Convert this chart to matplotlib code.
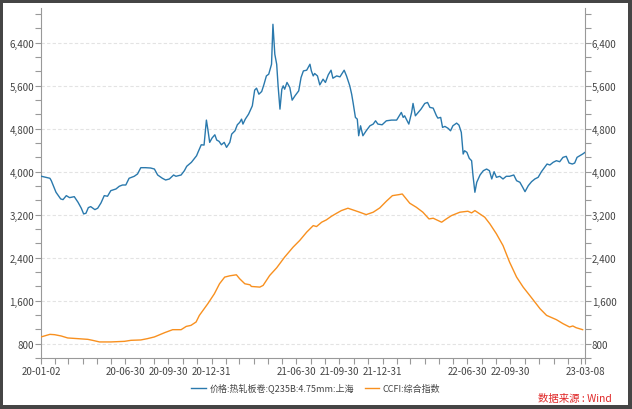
import matplotlib
matplotlib.use("Agg")
import matplotlib.pyplot as plt
import matplotlib.ticker as mticker
import matplotlib.patches as mpatches
import pandas as pd

plt.rcParams['font.family'] = ['Noto Sans CJK SC', 'DejaVu Sans']

# ---- Data ----
steel_dates = [
    "2020-01-02", "2020-01-21", "2020-01-24", "2020-02-03", "2020-02-13", "2020-02-18", "2020-02-25",
    "2020-03-03", "2020-03-13", "2020-03-21", "2020-03-28", "2020-04-02", "2020-04-07", "2020-04-12",
    "2020-04-17", "2020-04-26", "2020-05-02", "2020-05-09", "2020-05-16", "2020-05-23", "2020-05-30",
    "2020-06-10", "2020-06-17", "2020-06-24", "2020-07-01", "2020-07-08", "2020-07-19", "2020-07-26",
    "2020-08-02", "2020-08-12", "2020-08-23", "2020-08-31", "2020-09-07", "2020-09-17", "2020-09-24",
    "2020-10-02", "2020-10-11", "2020-10-16", "2020-10-27", "2020-11-03", "2020-11-08", "2020-11-18",
    "2020-11-29", "2020-12-02", "2020-12-09", "2020-12-15", "2020-12-20", "2020-12-23", "2020-12-27",
    "2021-01-01", "2021-01-07", "2021-01-11", "2021-01-16", "2021-01-21", "2021-01-27", "2021-02-01",
    "2021-02-08", "2021-02-12", "2021-02-19", "2021-02-24", "2021-03-01", "2021-03-05", "2021-03-08",
    "2021-03-13", "2021-03-20", "2021-03-28", "2021-04-02", "2021-04-06", "2021-04-11", "2021-04-17",
    "2021-04-22", "2021-04-27", "2021-05-02", "2021-05-08", "2021-05-11", "2021-05-15", "2021-05-19",
    "2021-05-22", "2021-05-26", "2021-05-30", "2021-06-02", "2021-06-05", "2021-06-10", "2021-06-16",
    "2021-06-21", "2021-06-27", "2021-07-05", "2021-07-10", "2021-07-15", "2021-07-22", "2021-07-29",
    "2021-08-01", "2021-08-05", "2021-08-08", "2021-08-14", "2021-08-19", "2021-08-26", "2021-08-31",
    "2021-09-06", "2021-09-12", "2021-09-16", "2021-09-24", "2021-10-01", "2021-10-10", "2021-10-15",
    "2021-10-22", "2021-10-26", "2021-10-29", "2021-11-03", "2021-11-07", "2021-11-10", "2021-11-14",
    "2021-11-19", "2021-11-26", "2021-12-04", "2021-12-11", "2021-12-16", "2021-12-21", "2021-12-30",
    "2022-01-08", "2022-01-19", "2022-01-30", "2022-02-09", "2022-02-13", "2022-02-16", "2022-02-25",
    "2022-03-03", "2022-03-06", "2022-03-11", "2022-03-17", "2022-03-23", "2022-03-31", "2022-04-06",
    "2022-04-11", "2022-04-18", "2022-04-25", "2022-04-28", "2022-05-04", "2022-05-08", "2022-05-13",
    "2022-05-20", "2022-05-25", "2022-05-30", "2022-06-07", "2022-06-12", "2022-06-17", "2022-06-21",
    "2022-06-24", "2022-06-29", "2022-07-04", "2022-07-09", "2022-07-12", "2022-07-16", "2022-07-20",
    "2022-07-27", "2022-08-03", "2022-08-10", "2022-08-16", "2022-08-21", "2022-08-26", "2022-08-31",
    "2022-09-07", "2022-09-14", "2022-09-21", "2022-09-28", "2022-10-07", "2022-10-13", "2022-10-20",
    "2022-10-26", "2022-10-31", "2022-11-07", "2022-11-14", "2022-11-21", "2022-11-28", "2022-12-05",
    "2022-12-12", "2022-12-17", "2022-12-23", "2022-12-30", "2023-01-06", "2023-01-13", "2023-01-20",
    "2023-01-27", "2023-02-02", "2023-02-09", "2023-02-14", "2023-02-19", "2023-02-25", "2023-03-03",
    "2023-03-08",
]
steel_values = [
    3915, 3876, 3831, 3616, 3492, 3479, 3553,
    3516, 3534, 3430, 3319, 3213, 3226, 3330,
    3349, 3293, 3319, 3417, 3553, 3542, 3646,
    3677, 3727, 3751, 3751, 3876, 3913, 3956,
    4073, 4073, 4067, 4048, 3937, 3876, 3844,
    3863, 3937, 3913, 3937, 4017, 4099, 4173,
    4295, 4358, 4499, 4494, 4958, 4791, 4544,
    4624, 4685, 4587, 4563, 4499, 4544, 4451,
    4544, 4698, 4759, 4871, 4915, 4976, 4884,
    4976, 5069, 5223, 5515, 5552, 5440, 5490,
    5626, 5780, 5812, 5997, 6740, 6183, 5997,
    5595, 5162, 5533, 5595, 5533, 5658, 5565,
    5329, 5409, 5502, 5750, 5873, 5886, 5997,
    5873, 5780, 5825, 5780, 5613, 5719, 5658,
    5799, 5886, 5737, 5780, 5762, 5886, 5780,
    5595, 5440, 5286, 5008, 4976, 4667, 4852,
    4667, 4759, 4852, 4884, 4945, 4884, 4871,
    4945, 4958, 4958, 5101, 5008, 5038, 4884,
    5101, 5268, 5038, 5101, 5162, 5268, 5286,
    5194, 5181, 5038, 4995, 5008, 4822, 4841,
    4804, 4759, 4852, 4902, 4865, 4730, 4327,
    4388, 4358, 4247, 4203, 3924, 3616, 3802,
    3937, 4017, 4048, 4017, 3863, 3998, 3894,
    3913, 3863, 3913, 3913, 3937, 3831, 3802,
    3709, 3627, 3739, 3813, 3863, 3894, 3998,
    4080, 4141, 4123, 4173, 4203, 4184, 4265,
    4284, 4160, 4141, 4160, 4265, 4295, 4327,
    4358,
]

ccfi_dates = [
    "2020-01-02", "2020-01-21", "2020-01-31", "2020-02-14", "2020-02-28", "2020-03-21", "2020-04-11",
    "2020-04-21", "2020-05-06", "2020-05-30", "2020-06-28", "2020-07-12", "2020-08-02", "2020-08-16",
    "2020-08-31", "2020-09-22", "2020-10-09", "2020-10-27", "2020-11-07", "2020-11-17", "2020-11-28",
    "2020-12-05", "2020-12-23", "2021-01-06", "2021-01-17", "2021-01-28", "2021-02-08", "2021-02-22",
    "2021-03-01", "2021-03-12", "2021-03-23", "2021-03-26", "2021-04-13", "2021-04-20", "2021-05-04",
    "2021-05-19", "2021-06-05", "2021-06-23", "2021-07-07", "2021-07-22", "2021-08-05", "2021-08-12",
    "2021-08-23", "2021-09-02", "2021-09-13", "2021-09-24", "2021-10-04", "2021-10-18", "2021-11-02",
    "2021-11-12", "2021-11-26", "2021-12-11", "2021-12-25", "2022-01-08", "2022-01-21", "2022-02-04",
    "2022-02-11", "2022-02-27", "2022-03-13", "2022-03-27", "2022-04-09", "2022-04-18", "2022-05-06",
    "2022-05-16", "2022-05-27", "2022-06-14", "2022-07-01", "2022-07-09", "2022-07-16", "2022-08-06",
    "2022-08-17", "2022-08-31", "2022-09-14", "2022-09-28", "2022-10-13", "2022-10-27", "2022-11-10",
    "2022-11-21", "2022-12-02", "2022-12-16", "2023-01-06", "2023-01-20", "2023-02-03", "2023-02-10",
    "2023-02-17", "2023-03-03",
]
ccfi_values = [
    925, 973, 967, 943, 906, 893, 880,
    862, 832, 832, 843, 862, 869, 893,
    925, 1005, 1060, 1060, 1121, 1140, 1203,
    1326, 1543, 1728, 1914, 2038, 2062, 2081,
    2007, 1914, 1895, 1864, 1852, 1883, 2068,
    2211, 2410, 2595, 2718, 2874, 2996, 2978,
    3059, 3102, 3170, 3226, 3275, 3319, 3275,
    3245, 3200, 3245, 3325, 3449, 3553, 3572,
    3584, 3412, 3337, 3245, 3120, 3133, 3059,
    3120, 3182, 3245, 3263, 3232, 3275, 3152,
    3028, 2842, 2625, 2317, 2038, 1852, 1697,
    1574, 1450, 1326, 1246, 1172, 1110, 1129,
    1097, 1060,
]

series_labels = ["价格:热轧板卷:Q235B:4.75mm:上海", "CCFI:综合指数"]
x_tick_dates = ["2020-01-02", "2020-06-30", "2020-09-30", "2020-12-31", "2021-06-30",
                "2021-09-30", "2021-12-31", "2022-06-30", "2022-09-30", "2023-03-08"]
x_tick_labels = ["20-01-02", "20-06-30", "20-09-30", "20-12-31", "21-06-30",
                 "21-09-30", "21-12-31", "22-06-30", "22-09-30", "23-03-08"]
y_ticks = [800, 1600, 2400, 3200, 4000, 4800, 5600, 6400]
source_text = "数据来源 : Wind"

# ---- Figure ----
W, H = 632, 410
fig = plt.figure(figsize=(W / 100, H / 100), dpi=100)
fig.patch.set_facecolor('#454545')
fig.patches.append(mpatches.Rectangle((3 / W, 4 / H), (628 - 3) / W, (406 - 4) / H,
                                      transform=fig.transFigure, facecolor='white',
                                      edgecolor='none', zorder=-10))

ax = fig.add_axes([41 / W, 1 - 359 / H, (585 - 41) / W, (359 - 9) / H])
ax.set_zorder(5)
ax.patch.set_alpha(0)

c_blue = '#2a79ad'
c_orange = '#f8901f'
ax.plot(pd.to_datetime(steel_dates), steel_values, color=c_blue, lw=1.0,
        label=series_labels[0], zorder=3)
ax.plot(pd.to_datetime(ccfi_dates), ccfi_values, color=c_orange, lw=1.0,
        label=series_labels[1], zorder=3)

ax.set_xlim(pd.Timestamp("2020-01-02"), pd.Timestamp("2023-03-08"))
ax.set_ylim(533.3, 7043)

# y axis
ax.set_yticks(y_ticks)
ax.yaxis.set_minor_locator(mticker.MultipleLocator(800 / 3))
ax.yaxis.set_major_formatter(mticker.FuncFormatter(lambda v, p: f"{int(v):,}"))
ax.yaxis.set_ticks_position('both')
ax.tick_params(axis='y', which='both', direction='out', left=True, right=True,
               labelleft=True, labelright=True, color='#999999', width=0.8,
               labelsize=7, labelcolor='#444444', pad=1, length=4)

# x axis
ax.set_xticks(pd.to_datetime(x_tick_dates))
ax.set_xticklabels(x_tick_labels)
try:
    month_ends = pd.date_range("2020-01-31", "2023-02-28", freq="ME")
except Exception:
    month_ends = pd.date_range("2020-01-31", "2023-02-28", freq="M")
ax.set_xticks(month_ends, minor=True)
ax.tick_params(axis='x', which='both', direction='out', length=4, color='#999999',
               width=0.8, labelsize=7, labelcolor='#444444', pad=2)

ax.grid(axis='y', which='major', color='#e3e3e3', linestyle=(0, (3, 2)), lw=0.8, zorder=0)
ax.set_axisbelow(True)

for s in ['left', 'right', 'bottom']:
    ax.spines[s].set_color('#999999')
    ax.spines[s].set_linewidth(0.8)
ax.spines['top'].set_visible(False)

leg = fig.legend(loc='center', bbox_to_anchor=(316 / W, 1 - 389 / H), ncol=2,
                 frameon=False, fontsize=6.5, handlelength=1.6, handletextpad=0.4,
                 columnspacing=1.2)
for t in leg.get_texts():
    t.set_color('#444444')

fig.text(575 / W, 1 - 399 / H, source_text, color='#e02828', fontsize=7.5,
         ha='center', va='center')

fig.savefig("out.png", dpi=100, facecolor=fig.get_facecolor())
